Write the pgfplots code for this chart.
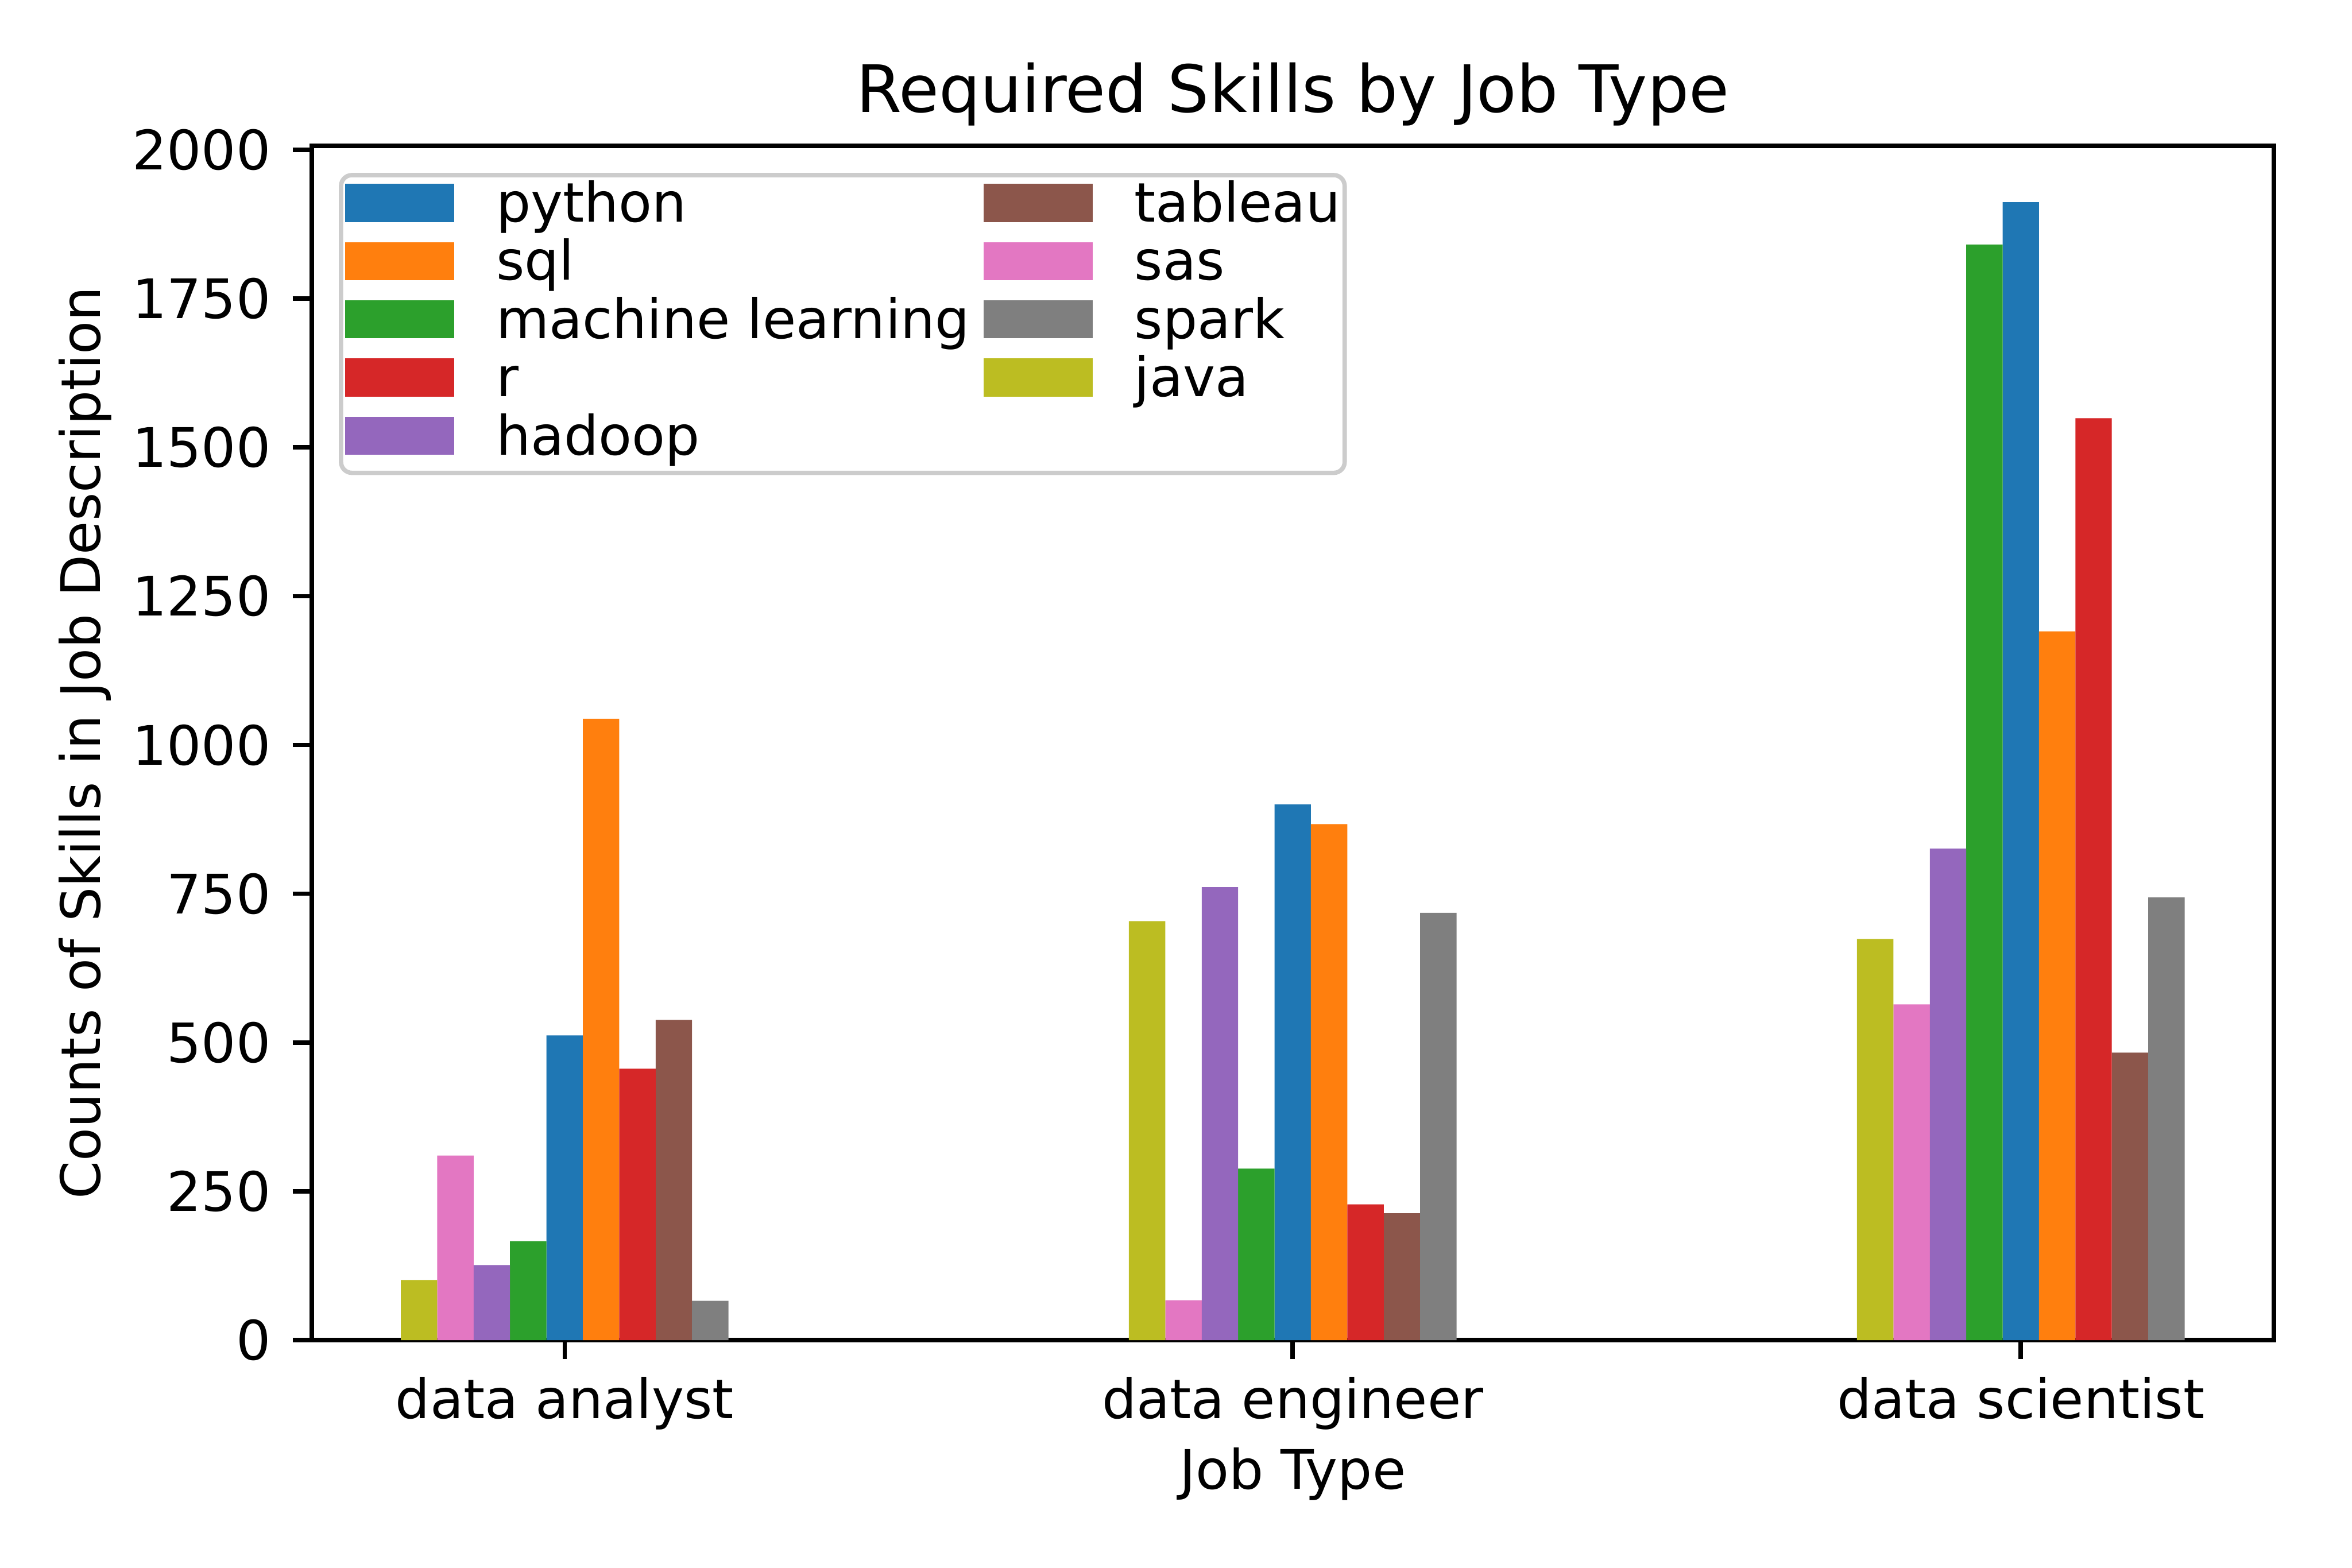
\documentclass[border=0pt]{standalone}
\usepackage{pgfplots}
\pgfplotsset{compat=1.18}
\usepackage{fontspec}
\setmainfont{DejaVu Sans}
\definecolor{cpython}{HTML}{1F77B4}
\definecolor{csql}{HTML}{FF7F0E}
\definecolor{cml}{HTML}{2CA02C}
\definecolor{cr}{HTML}{D62728}
\definecolor{chadoop}{HTML}{9467BD}
\definecolor{ctableau}{HTML}{8C564B}
\definecolor{csas}{HTML}{E377C2}
\definecolor{cspark}{HTML}{7F7F7F}
\definecolor{cjava}{HTML}{BCBD22}
\begin{document}
\begin{tikzpicture}
\useasboundingbox (0,0) rectangle (432pt,288pt);
\begin{axis}[
  at={(57.24pt,41.83pt)}, anchor=south west,
  scale only axis, width=360.4pt, height=219.4pt,
  xmin=-0.3475, xmax=2.3475, ymin=0, ymax=2007,
  xtick={0,1,2}, xticklabels={data analyst,data engineer,data scientist},
  ytick={0,250,...,2000},
  scaled y ticks=false,
  /pgf/number format/1000 sep={},
  /pgf/number format/assume math mode=true,
  tick align=outside, major tick length=3.5pt,
  xtick pos=bottom, ytick pos=left,
  major tick style={line width=0.8pt, black},
  axis line style={line width=0.8pt},
  ticklabel style={font=\fontsize{10}{12}\selectfont},
  xticklabel style={anchor=base, inner sep=0pt, yshift=-10.9pt},
  yticklabel style={anchor=east, inner sep=0pt, xshift=-3.8pt},
  title={Required Skills by Job Type},
  xlabel={Job Type},
  ylabel={Counts of Skills in Job Description},
  every axis title/.style={at={(axis description cs:0.5,1)}, anchor=base, yshift=6.1pt, font=\fontsize{12}{14}\selectfont},
  every axis x label/.style={at={(axis description cs:0.5,0)}, anchor=base, yshift=-27.4pt, font=\fontsize{10}{12}\selectfont},
  every axis y label/.style={at={(axis description cs:0,0.5)}, xshift=-38.8pt, rotate=90, anchor=base, font=\fontsize{10}{12}\selectfont},
  legend columns=2,
  legend cell align=left,
  legend image code/.code={\fill[#1, sharp corners] (0pt,0pt) rectangle (20pt,7pt);},
  legend style={at={(axis description cs:0,1)}, anchor=north west, xshift=5pt, yshift=-5pt,
    draw=black!20, line width=0.8pt, rounded corners=2pt, fill=white,
    inner xsep=0.8pt, inner ysep=0.6pt, row sep=0pt, column sep=0pt,
    font=\fontsize{10}{12}\selectfont,
    nodes={inner sep=0pt, text height=8pt, text depth=2.7pt, anchor=base west},
    /tikz/every odd column/.style={column sep=7.7pt},
    /tikz/every even column/.style={column sep=2.6pt}},
]
\addplot[ybar, bar width=0.05, bar shift=0, fill=cpython, draw=none] coordinates {(0,512) (1,900) (2,1912)};
\addlegendentry{python}
\addplot[ybar, bar width=0.05, bar shift=0.15, fill=ctableau, draw=none] coordinates {(0,538) (1,213) (2,483)};
\addlegendentry{tableau}
\addplot[ybar, bar width=0.05, bar shift=0.05, fill=csql, draw=none] coordinates {(0,1044) (1,867) (2,1191)};
\addlegendentry{sql}
\addplot[ybar, bar width=0.05, bar shift=-0.15, fill=csas, draw=none] coordinates {(0,310) (1,67) (2,564)};
\addlegendentry{sas}
\addplot[ybar, bar width=0.05, bar shift=-0.05, fill=cml, draw=none] coordinates {(0,166) (1,288) (2,1841)};
\addlegendentry{machine learning}
\addplot[ybar, bar width=0.05, bar shift=0.2, fill=cspark, draw=none] coordinates {(0,66) (1,718) (2,744)};
\addlegendentry{spark}
\addplot[ybar, bar width=0.05, bar shift=0.1, fill=cr, draw=none] coordinates {(0,456) (1,228) (2,1549)};
\addlegendentry{r}
\addplot[ybar, bar width=0.05, bar shift=-0.2, fill=cjava, draw=none] coordinates {(0,101) (1,704) (2,674)};
\addlegendentry{java}
\addplot[ybar, bar width=0.05, bar shift=-0.1, fill=chadoop, draw=none] coordinates {(0,126) (1,761) (2,826)};
\addlegendentry{hadoop}
\end{axis}
\end{tikzpicture}
\end{document}
